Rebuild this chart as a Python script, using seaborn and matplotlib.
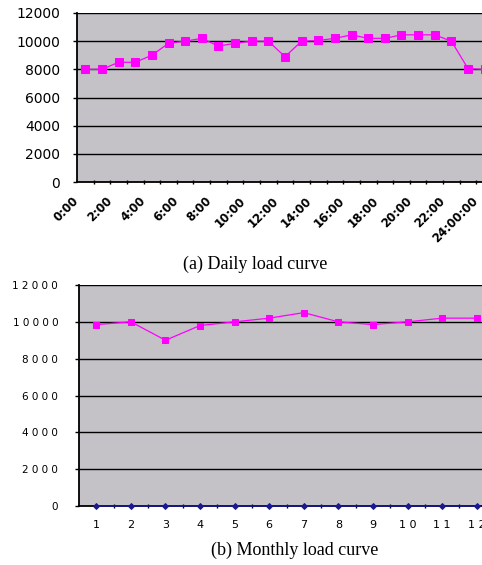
import matplotlib
matplotlib.use("Agg")
import matplotlib.pyplot as plt
import matplotlib.transforms as mtransforms
import seaborn as sns
import numpy as np
import pandas as pd

# ---- data ----
daily_times = ["0:00", "", "2:00", "", "4:00", "", "6:00", "", "8:00", "", "10:00", "", "12:00", "",
               "14:00", "", "16:00", "", "18:00", "", "20:00", "", "22:00", "", "24:00:00"]
daily_load = [8000, 8000, 8500, 8500, 9000, 9850, 10000, 10200, 9650, 9850, 10000, 10000, 8900,
              10000, 10050, 10200, 10450, 10200, 10200, 10450, 10450, 10450, 10000, 8050, 8000]

months = ["1", "2", "3", "4", "5", "6", "7", "8", "9", "1 0", "1 1", "1 2"]
monthly_load = [9850, 10000, 9000, 9800, 10000, 10200, 10500, 10000, 9850, 10000, 10200, 10200]
monthly_base = [0] * 12

daily_yticks = [0, 2000, 4000, 6000, 8000, 10000, 12000]
daily_yticklabels = ["0", "2000", "4000", "6000", "8000", "10000", "12000"]
monthly_yticks = [0, 2000, 4000, 6000, 8000, 10000, 12000]
monthly_yticklabels = ["0", "2 0 0 0", "4 0 0 0", "6 0 0 0", "8 0 0 0", "1 0 0 0 0", "1 2 0 0 0"]

GRAY = "#C4C2C6"
MAG = "#FF00FF"
NAVY = "#1A1A90"

fig = plt.figure(figsize=(4.82, 5.65), dpi=100)
fig.patch.set_facecolor("white")

W, H = 482.0, 565.0

def style_ax(ax, n, yticks, ylabels, yfs, ypad):
    ax.set_facecolor(GRAY)
    ax.set_xlim(-0.5, n - 0.5)
    ax.set_ylim(0, 12000)
    for s in ["top", "right"]:
        ax.spines[s].set_visible(False)
    for s in ["left", "bottom"]:
        ax.spines[s].set_linewidth(1.3)
        ax.spines[s].set_color("black")
    ax.set_yticks(yticks)
    ax.set_yticklabels(ylabels)
    for y in yticks[1:]:
        ax.axhline(y, color="black", lw=1.0, zorder=1)
    ax.tick_params(axis="y", length=3, width=1, pad=ypad, labelsize=yfs, direction="out")
    ax.set_xticks(np.arange(n - 1) + 0.5, minor=True)
    ax.tick_params(axis="x", which="minor", length=3, width=1, direction="inout")
    ax.set_xlabel("")
    ax.set_ylabel("")

# ---- top: daily ----
ax1 = fig.add_axes([77 / W, 1 - 182 / H, 416 / W, 169 / H])
df1 = pd.DataFrame({"x": np.arange(len(daily_load)), "load": daily_load})
sns.lineplot(data=df1, x="x", y="load", ax=ax1, color=MAG, lw=0.9, marker="s",
             markersize=6, markeredgecolor=MAG, zorder=3, clip_on=False)
style_ax(ax1, len(daily_load), daily_yticks, daily_yticklabels, 10, 9)
ax1.set_xticks(np.arange(len(daily_times)))
ax1.set_xticklabels(daily_times, rotation=45, ha="right", va="top",
                    rotation_mode="anchor", fontsize=8.5, fontweight="bold")
ax1.tick_params(axis="x", which="major", length=0, pad=9)
off = mtransforms.ScaledTranslation(-13 / 100, 0, fig.dpi_scale_trans)
for lab in ax1.get_xticklabels():
    lab.set_transform(lab.get_transform() + off)

fig.text(255 / W, 1 - 264 / H, "(a) Daily load curve", ha="center", va="center",
         fontsize=13, family="Liberation Serif")

# ---- bottom: monthly ----
ax2 = fig.add_axes([79 / W, 1 - 506 / H, 415 / W, 221 / H])
df2 = pd.DataFrame({"x": np.arange(12), "load": monthly_load, "base": monthly_base})
sns.lineplot(data=df2, x="x", y="load", ax=ax2, color=MAG, lw=0.9, marker="s",
             markersize=4, markeredgecolor=MAG, zorder=3, clip_on=False)
sns.lineplot(data=df2, x="x", y="base", ax=ax2, color=NAVY, lw=1.2, marker="D",
             markersize=3, markeredgecolor=NAVY, zorder=4, clip_on=False)
style_ax(ax2, 12, monthly_yticks, monthly_yticklabels, 7.5, 12)
ax2.set_xticks(np.arange(12))
ax2.set_xticklabels(months, fontsize=8)
ax2.tick_params(axis="x", which="major", length=0, pad=10)

fig.text(295 / W, 1 - 550 / H, "(b) Monthly load curve", ha="center", va="center",
         fontsize=13, family="Liberation Serif")

fig.savefig("out.png", dpi=100, facecolor="white")
